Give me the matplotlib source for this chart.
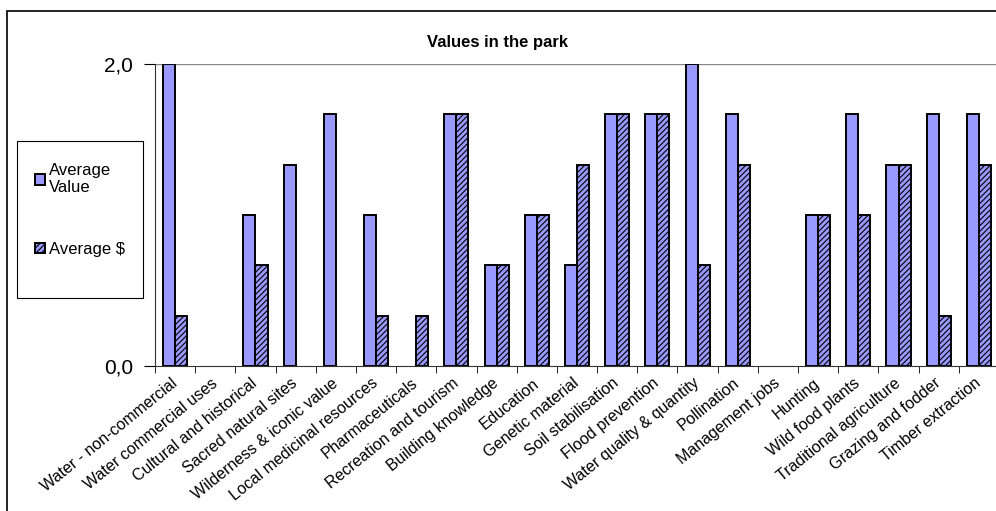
import matplotlib
matplotlib.use('Agg')
import numpy as np
import matplotlib.pyplot as plt
from matplotlib.patches import Rectangle

plt.rcParams['font.family'] = ['Liberation Sans', 'DejaVu Sans']
plt.rcParams['hatch.color'] = '#202040'
plt.rcParams['hatch.linewidth'] = 0.8

categories = ['Water - non-commercial', 'Water commercial uses', 'Cultural and historical',
              'Sacred natural sites', 'Wilderness & iconic value', 'Local medicinal resources',
              'Pharmaceuticals', 'Recreation and tourism', 'Building knowledge', 'Education',
              'Genetic material', 'Soil stabilisation', 'Flood prevention',
              'Water quality & quantity', 'Pollination', 'Management jobs', 'Hunting',
              'Wild food plants', 'Traditional agriculture', 'Grazing and fodder',
              'Timber extraction']
# values are in thirds
avg_value = [6, 0, 3, 4, 5, 3, 0, 5, 2, 3, 2, 5, 5, 6, 5, 0, 3, 5, 4, 5, 5]
avg_dollar = [1, 0, 2, 0, 0, 1, 1, 5, 2, 3, 4, 5, 5, 2, 4, 0, 3, 3, 4, 1, 4]
avg_value = np.array(avg_value) / 3
avg_dollar = np.array(avg_dollar) / 3

fig = plt.figure(figsize=(9.96, 5.11), dpi=100)
# outer chart border
fig.patches.append(Rectangle((7/996, -0.05), 1.2, 1 - 11/511 + 0.05, transform=fig.transFigure,
                             fill=False, edgecolor='black', lw=1.2))
# legend box (drawn by hand, excel style)
fig.patches.append(Rectangle((17/996, 1 - 298/511), 126/996, 157/511, transform=fig.transFigure,
                             fill=False, edgecolor='black', lw=0.8))
ax = fig.add_axes([155/996, 1 - 366/511, 844/996, 302/511])

x = np.arange(len(categories))
w = 0.3
# zero bars are not drawn (no flat line on the axis)
nz1 = avg_value > 0
nz2 = avg_dollar > 0
ax.bar(x[nz1] - w/2, avg_value[nz1], w, color='#9999FF', edgecolor='black', lw=1.4,
       label='Average\nValue')
ax.bar(x[nz2] + w/2, avg_dollar[nz2], w, color='#9999FF', edgecolor='black', lw=1.4,
       hatch='//////', label='Average $')

ax.set_xlim(-0.5, len(categories) - 0.5)
ax.set_ylim(0, 2)
ax.axhline(2, color='#888888', lw=1, zorder=0)
for s in ['top', 'right']:
    ax.spines[s].set_visible(False)
ax.spines['left'].set_color('#333333')
ax.spines['bottom'].set_color('#333333')

ax.set_yticks([0, 2])
ax.set_yticklabels(['0,0', '2,0'], fontsize=15)
ax.tick_params(axis='y', length=8, pad=8)
ax.set_xticks(np.arange(len(categories) + 1) - 0.5, minor=True)
ax.set_xticks(x)
ax.set_xticklabels(categories, rotation=39, ha='right', va='center', rotation_mode='anchor',
                   fontsize=11.5)
ax.tick_params(axis='x', which='major', length=0, pad=11)
ax.tick_params(axis='x', which='minor', length=5)

fig.text(497/996, 1 - 42/511, 'Values in the park', ha='center', va='center',
         fontsize=12, fontweight='bold')

leg = fig.legend(loc='upper left', bbox_to_anchor=(35/996, 1 - 163/511), frameon=False,
                 fontsize=12, handlelength=0.6, handleheight=0.6, labelspacing=2.8,
                 borderpad=0, handletextpad=0.25, borderaxespad=0)

plt.savefig('out.png', dpi=100)
plt.close()
